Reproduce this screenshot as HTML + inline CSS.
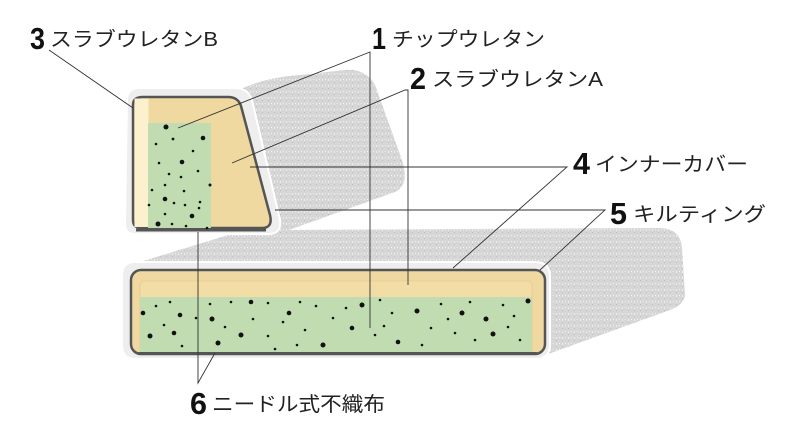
<!DOCTYPE html>
<html><head><meta charset="utf-8"><style>
html,body{margin:0;padding:0;background:#fff;width:800px;height:425px;overflow:hidden}
svg{display:block}
.n{font-family:"Liberation Sans",sans-serif;font-weight:bold;font-size:31px;fill:#111}
.t{font-family:"Liberation Sans","Noto Sans CJK JP",sans-serif;font-size:20px;fill:#222}
</style></head><body>
<svg width="800" height="425" viewBox="0 0 800 425" xmlns="http://www.w3.org/2000/svg">
<defs>
<pattern id="q" width="6" height="6" patternUnits="userSpaceOnUse">
<rect width="6" height="6" fill="#d6d6d6"/>
<rect x="1" y="1" width="1" height="1" fill="#f2f2f2"/>
<rect x="4" y="4" width="1" height="1" fill="#bdbdbd"/>
<rect x="4" y="1" width="1" height="2" fill="#ececec"/>
</pattern>
</defs>
<path d="M235 92 Q260 78 300 75 L345 70 Q365 68 375 85 L402 160 Q410 185 395 192 L275 235 L250 200 Z" fill="url(#q)"/>
<path d="M140 262 L225 236 Q240 230 260 230 L660 228 Q680 228 682 248 L685 295 Q684 305 670 310 L540 357 L140 300 Z" fill="url(#q)"/>
<path d="M127 100 Q127 88 140 88 L235 88 Q248 88 252 100 L280 220 Q282 234 268 234 L135 234 Q125 234 125 224 Z" fill="#eeeeee" stroke="#fff" stroke-width="2"/>
<path d="M133 105 Q133 97 143 97 L228 97 Q238 97 241 106 L270 215 Q273 228 262 228 L142 228 Q133 228 133 220 Z" fill="#efd9a0" stroke="#555" stroke-width="2.5"/>
<rect x="134.5" y="98.5" width="14" height="128.5" fill="#fbf1cf"/>
<rect x="148" y="123" width="63" height="105" fill="#c1dcb1"/>
<line x1="136" y1="230" x2="266" y2="230" stroke="#555" stroke-width="3"/>
<g fill="#111">
<circle cx="166" cy="127" r="2.5"/><circle cx="173" cy="139" r="1.4"/><circle cx="203" cy="138" r="2.3"/><circle cx="156" cy="144" r="1.3"/><circle cx="193" cy="151" r="1.3"/><circle cx="182" cy="162" r="2.3"/><circle cx="159" cy="163" r="1.3"/><circle cx="198" cy="171" r="1.3"/><circle cx="169" cy="174" r="1.3"/><circle cx="181" cy="177" r="1.3"/><circle cx="165" cy="185" r="1.3"/><circle cx="210" cy="185" r="1.5"/><circle cx="152" cy="190" r="1.3"/><circle cx="184" cy="191" r="1.3"/><circle cx="165" cy="199" r="2.3"/><circle cx="174" cy="203" r="1.3"/><circle cx="200" cy="202" r="1.3"/><circle cx="149" cy="205" r="1.3"/><circle cx="185" cy="205" r="1.3"/><circle cx="199" cy="208" r="1.3"/><circle cx="192" cy="216" r="2.3"/><circle cx="165" cy="214" r="1.3"/><circle cx="158" cy="224" r="2.5"/><circle cx="172" cy="224" r="1.3"/><circle cx="186" cy="226" r="1.3"/><circle cx="207" cy="228" r="1.3"/>
</g>
<path d="M122 275 Q122 262 135 262 L535 262 Q550 262 550 277 L550 345 Q550 359 535 359 L135 359 Q122 359 122 345 Z" fill="#eeeeee" stroke="#fff" stroke-width="2"/>
<rect x="131" y="270" width="414" height="84" rx="10" fill="#efd9a0" stroke="#555" stroke-width="2.5"/>
<rect x="140" y="281" width="392" height="73" rx="4" fill="#f2dda6" stroke="#e6c98a" stroke-width="0.8"/>
<rect x="140" y="297" width="392" height="55" fill="#c1dcb1"/>
<line x1="138" y1="353.5" x2="537" y2="353.5" stroke="#555" stroke-width="3"/>
<g fill="#111">
<circle cx="143" cy="313" r="2.3"/><circle cx="156" cy="306" r="1.3"/><circle cx="170" cy="302" r="1.3"/><circle cx="180" cy="315" r="2.3"/><circle cx="164" cy="325" r="1.3"/><circle cx="150" cy="336" r="2.5"/><circle cx="174" cy="333" r="2.3"/><circle cx="182" cy="346" r="1.3"/><circle cx="196" cy="318" r="1.3"/><circle cx="212" cy="319" r="2.5"/><circle cx="218" cy="343" r="2.5"/><circle cx="225" cy="327" r="1.3"/><circle cx="231" cy="302" r="1.3"/><circle cx="241" cy="335" r="2.5"/><circle cx="253" cy="319" r="1.3"/><circle cx="251" cy="302" r="2.3"/><circle cx="268" cy="336" r="1.3"/><circle cx="275" cy="349" r="1.3"/><circle cx="268" cy="303" r="1.3"/><circle cx="283" cy="322" r="1.3"/><circle cx="289" cy="313" r="2.3"/><circle cx="297" cy="345" r="1.3"/><circle cx="305" cy="330" r="1.3"/><circle cx="316" cy="306" r="1.3"/><circle cx="323" cy="345" r="2.5"/><circle cx="333" cy="318" r="1.3"/><circle cx="346" cy="308" r="1.3"/><circle cx="352" cy="328" r="2.3"/><circle cx="362" cy="305" r="2.5"/><circle cx="375" cy="335" r="1.3"/><circle cx="384" cy="326" r="1.3"/><circle cx="392" cy="313" r="1.3"/><circle cx="398" cy="342" r="2.3"/><circle cx="417" cy="311" r="2.5"/><circle cx="422" cy="345" r="1.3"/><circle cx="431" cy="328" r="1.3"/><circle cx="441" cy="304" r="1.3"/><circle cx="448" cy="319" r="1.3"/><circle cx="455" cy="333" r="1.3"/><circle cx="462" cy="313" r="2.5"/><circle cx="470" cy="302" r="1.3"/><circle cx="475" cy="340" r="1.3"/><circle cx="486" cy="319" r="2.5"/><circle cx="493" cy="334" r="2.5"/><circle cx="503" cy="305" r="1.3"/><circle cx="508" cy="327" r="1.3"/><circle cx="514" cy="316" r="1.3"/><circle cx="520" cy="340" r="1.3"/><circle cx="528" cy="301" r="2.5"/><circle cx="210" cy="304" r="1.3"/><circle cx="380" cy="300" r="1.3"/><circle cx="300" cy="302" r="1.3"/>
</g>
<g stroke="#333" stroke-width="0.9" fill="none">
<line x1="49" y1="50" x2="133" y2="108"/>
<polyline points="178,128 370,52 370,328"/>
<polyline points="232,163 405,90 408,90 408,285"/>
<polyline points="250,167 567,167 453,268"/>
<polyline points="275,210 605,210 540,270"/>
<polyline points="198,232 198,383 215,353"/>
</g>
<text class="n" x="30" y="49" textLength="15" lengthAdjust="spacingAndGlyphs">3</text><text class="t" x="50" y="46" textLength="168" lengthAdjust="spacingAndGlyphs">スラブウレタンB</text>
<text class="n" x="372" y="49" textLength="14" lengthAdjust="spacingAndGlyphs">1</text><text class="t" x="392" y="46" textLength="153" lengthAdjust="spacingAndGlyphs">チップウレタン</text>
<text class="n" x="410" y="89" textLength="16" lengthAdjust="spacingAndGlyphs">2</text><text class="t" x="432" y="86" textLength="171" lengthAdjust="spacingAndGlyphs">スラブウレタンA</text>
<text class="n" x="573" y="174" textLength="17" lengthAdjust="spacingAndGlyphs">4</text><text class="t" x="595" y="171" textLength="153" lengthAdjust="spacingAndGlyphs">インナーカバー</text>
<text class="n" x="610" y="224" textLength="17" lengthAdjust="spacingAndGlyphs">5</text><text class="t" x="633" y="221" textLength="133" lengthAdjust="spacingAndGlyphs">キルティング</text>
<text class="n" x="190" y="414" textLength="17" lengthAdjust="spacingAndGlyphs">6</text><text class="t" x="212" y="411" textLength="173" lengthAdjust="spacingAndGlyphs">ニードル式不織布</text>
</svg>
</body></html>
